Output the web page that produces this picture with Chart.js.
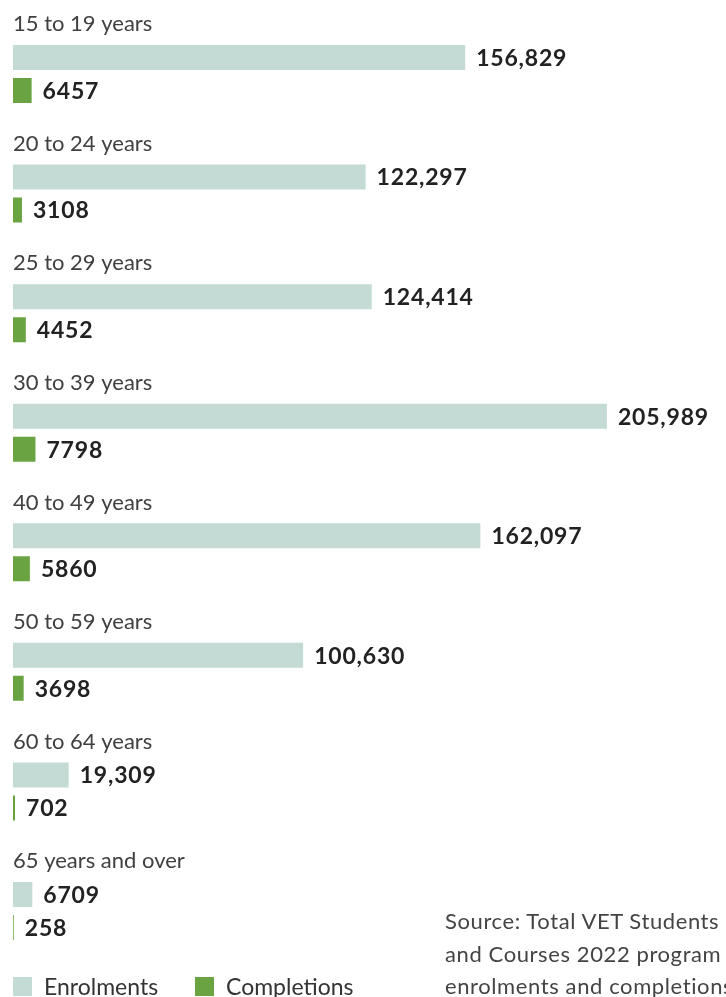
<!DOCTYPE html>
<html>
<head>
<meta charset="utf-8">
<script src="https://cdn.jsdelivr.net/npm/chart.js@4.4.1/dist/chart.umd.min.js"></script>
<style>
  html, body { margin: 0; padding: 0; background: #fff; overflow: hidden; }
  #wrap { position: relative; width: 726px; height: 997px; }
  #legend { position: absolute; left: 13px; top: 972px; font-family: Lato, sans-serif; font-size: 23px; color: #333; font-weight: 400; }
  #legend span.item { position: absolute; top: 0; white-space: nowrap; }
  #legend i { display: inline-block; width: 19px; height: 19px; vertical-align: -1px; margin-right: 12px; }
  #source { position: absolute; left: 445px; top: 905px; font-family: Lato, sans-serif; font-size: 22px; letter-spacing: 0.6px; line-height: 32.5px; color: #444; white-space: nowrap; }
</style>
</head>
<body>
<div id="wrap">
  <canvas id="chart" width="726" height="997"></canvas>
  <div id="legend">
    <span class="item" style="left:0"><i style="background:#c3dbd4"></i>Enrolments</span>
    <span class="item" style="left:182px"><i style="background:#6aa442"></i>Completions</span>
  </div>
  <div id="source">Source: Total VET Students<br>and Courses 2022 program<br>enrolments and completions</div>
</div>
<script>
// data
const kelompokUmur = ["15 to 19 years", "20 to 24 years", "25 to 29 years", "30 to 39 years",
  "40 to 49 years", "50 to 59 years", "60 to 64 years", "65 years and over"];
const enrolments = [156829, 122297, 124414, 205989, 162097, 100630, 19309, 6709];
const completions = [6457, 3108, 4452, 7798, 5860, 3698, 702, 258];

function formatAngka(v) {
  return v >= 10000 ? v.toLocaleString("en-US") : String(v);
}

// tulis label umur di atas tiap grup dan angka di ujung bar
const labelPlugin = {
  id: "labelPlugin",
  afterDatasetsDraw(chart) {
    const ctx = chart.ctx;
    const y = chart.scales.y;
    const step = y.getPixelForValue(1) - y.getPixelForValue(0);

    ctx.save();
    ctx.textAlign = "left";

    ctx.fillStyle = "#404040";
    ctx.font = "400 22px Lato";
    ctx.textBaseline = "alphabetic";
    kelompokUmur.forEach((nama, i) => {
      const top = y.getPixelForValue(i) - step / 2;
      ctx.fillText(nama, chart.chartArea.left, top + 17);
    });

    ctx.fillStyle = "#222";
    ctx.font = "700 23px Lato";
    ctx.letterSpacing = "0.8px";
    ctx.textBaseline = "middle";
    chart.data.datasets.forEach((ds, d) => {
      chart.getDatasetMeta(d).data.forEach((bar, i) => {
        ctx.fillText(formatAngka(ds.data[i]), bar.x + 11, bar.y + 1);
      });
    });
    ctx.restore();
  }
};

const ctx1 = document.getElementById("chart");

new Chart(ctx1, {
  type: "bar",
  data: {
    labels: kelompokUmur,
    datasets: [
      {
        label: "Enrolments",
        data: enrolments,
        backgroundColor: "#c3dbd4",
        barPercentage: 0.758,
        categoryPercentage: 0.552
      },
      {
        label: "Completions",
        data: completions,
        backgroundColor: "#6aa442",
        barPercentage: 0.758,
        categoryPercentage: 0.552
      }
    ]
  },
  options: {
    indexAxis: "y",
    responsive: false,
    animation: false,
    layout: {
      padding: { left: 13, right: 21, top: 14.2, bottom: 26.2 }
    },
    plugins: {
      legend: { display: false },
      tooltip: { enabled: false }
    },
    scales: {
      x: {
        min: 0,
        max: 240000,
        display: false
      },
      y: {
        display: false
      }
    }
  },
  plugins: [labelPlugin]
});
</script>
</body>
</html>
